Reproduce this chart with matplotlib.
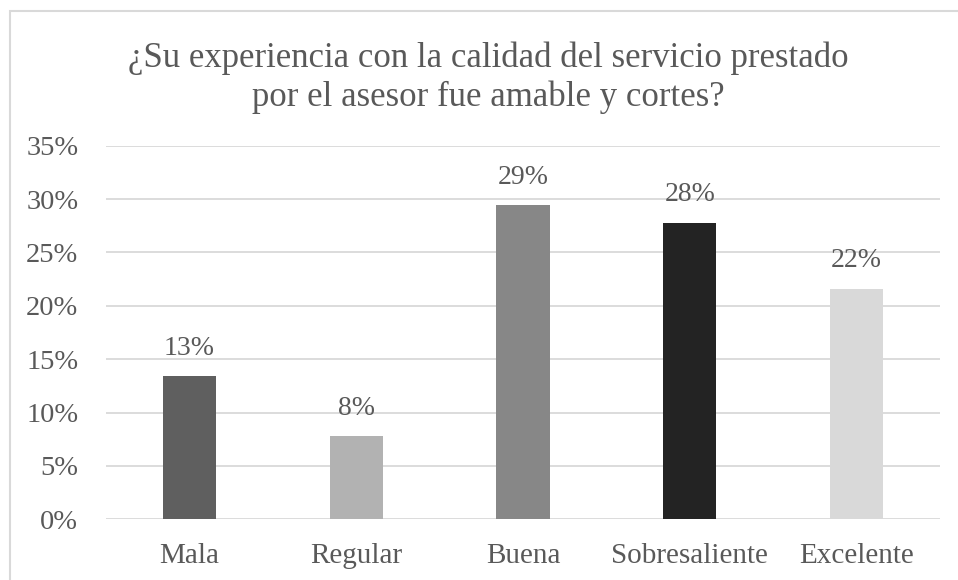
import matplotlib.pyplot as plt
from matplotlib.patches import Rectangle
from matplotlib.ticker import FuncFormatter

# Survey answer shares (%).
categories = ["Mala", "Regular", "Buena", "Sobresaliente", "Excelente"]
shares = [13.4, 7.8, 29.4, 27.8, 21.6]
labels = ["13%", "8%", "29%", "28%", "22%"]
colors = ["#5f5f5f", "#b2b2b2", "#878787", "#232323", "#d9d9d9"]
title = "¿Su experiencia con la calidad del servicio prestado\npor el asesor fue amable y cortes?"

text_color = "#595959"
grid_color = "#d9d9d9"

plt.rcParams["font.family"] = ["Liberation Serif", "DejaVu Serif"]

fig = plt.figure(figsize=(9.58, 5.8), dpi=100)
ax = fig.add_axes([0.1107, 0.1047, 0.8705, 0.6441])

x = range(len(categories))
bars = ax.bar(x, shares, width=0.32, color=colors, zorder=3)

for bar, lab in zip(bars, labels):
    ax.annotate(lab, (bar.get_x() + bar.get_width() / 2, bar.get_height()),
                xytext=(0, 11), textcoords="offset points",
                ha="center", va="bottom", fontsize=20, color=text_color)

ax.set_xlim(-0.5, len(categories) - 0.5)
ax.set_ylim(0, 35)
ax.set_yticks(range(0, 36, 5))
ax.yaxis.set_major_formatter(FuncFormatter(lambda v, _: f"{v:.0f}%"))
ax.set_xticks(list(x))
ax.set_xticklabels(categories)
ax.tick_params(axis="y", length=0, labelsize=20.5, colors=text_color, pad=20)
ax.tick_params(axis="x", length=0, labelsize=21, colors=text_color, pad=17)
ax.grid(axis="y", color=grid_color, linewidth=1.3, zorder=0)
for s in ax.spines.values():
    s.set_visible(False)

fig.text(0.5094, 0.866, title, ha="center", va="center",
         fontsize=25, color=text_color, linespacing=1.2)

# Chart border, cut off on the right and bottom like the screenshot.
fig.patches.append(Rectangle((10 / 958, -0.1), 1.2, 1.1 - 11 / 580,
                             transform=fig.transFigure, fill=False,
                             edgecolor=grid_color, linewidth=1.5))

fig.savefig("out.png", dpi=100)
